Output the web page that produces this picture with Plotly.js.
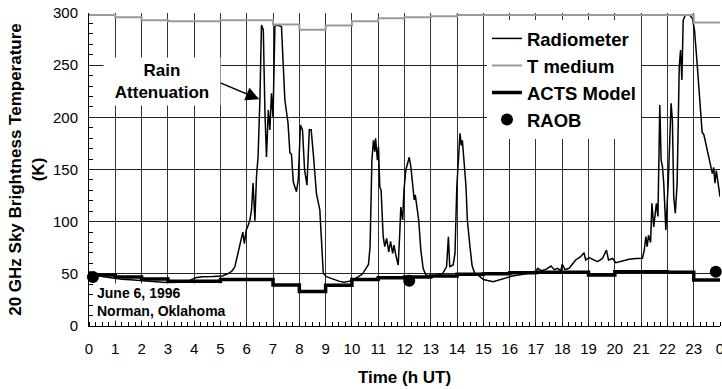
<!DOCTYPE html>
<html>
<head>
<meta charset="utf-8">
<script src="https://cdn.plot.ly/plotly-3.0.1.min.js"></script>
<style>html,body{margin:0;padding:0;background:#fff}#chart{width:722px;height:389px}</style>
</head>
<body>
<div id="chart"></div>
<script>
// Radiometer brightness temperature (h UT, K)
const radHours = [0.0,0.2,0.5,0.9,1.27,1.7,2.03,2.53,3.04,3.4,3.8,4.06,4.31,4.7,5.07,5.32,5.45,5.55,5.62,5.68,5.77,5.85,5.91,5.98,6.05,6.12,6.18,6.24,6.31,6.37,6.43,6.5,6.56,6.63,6.69,6.75,6.82,6.88,6.94,7.0,7.07,7.13,7.32,7.45,7.57,7.64,7.70,7.77,7.89,7.96,8.04,8.12,8.2,8.29,8.38,8.45,8.53,8.65,8.78,8.84,8.91,9.03,9.29,9.5,9.7,10.0,10.2,10.4,10.53,10.63,10.69,10.76,10.82,10.87,10.9,10.97,11.01,11.06,11.11,11.19,11.25,11.32,11.4,11.47,11.55,11.6,11.67,11.76,11.82,11.86,11.93,11.98,12.05,12.13,12.18,12.24,12.3,12.37,12.41,12.47,12.54,12.62,12.71,12.81,13.06,13.44,13.6,13.67,13.72,13.85,13.92,13.99,14.05,14.11,14.16,14.2,14.27,14.34,14.39,14.44,14.49,14.57,14.66,14.85,15.0,15.37,15.75,16.11,16.5,17.0,17.06,17.2,17.38,17.57,17.7,17.82,17.95,18.0,18.1,18.26,18.51,18.7,18.83,18.89,19.02,19.21,19.34,19.53,19.68,19.76,19.91,20.04,20.29,20.54,20.8,21.05,21.12,21.18,21.23,21.28,21.36,21.41,21.48,21.58,21.64,21.71,21.76,21.81,21.86,21.94,22.03,22.09,22.14,22.19,22.24,22.3,22.37,22.45,22.5,22.55,22.6,22.68,22.85,22.95,23.03,23.12,23.22,23.32,23.39,23.48,23.61,23.71,23.76,23.81,23.86,23.93,24.0];
const radTemp = [52,50,47.5,46,44.7,44,43.3,42.5,41.5,42,43.3,46.3,47.3,47.5,48,50.5,53,57,65,73,82,90,79,92,96,101.6,111,137,101,143,162,216.6,288.5,283.7,207,162,207,188,223,200,287,288.5,287,216.6,194.6,166,164.7,138,128.7,140,192.7,188,149.5,135,188,188,165.5,127,111,79,50.5,47.3,45,43,42,43.4,46.6,49.8,55,59,76,159,178,167,180,159,172,133.5,130,85.6,76,84,71,81,69.5,77.6,68,58.5,89,114,101.6,130,149.5,159,161.7,153,140,120.8,125.6,114,101.6,73,55,49,47.8,49.8,57,85.6,57,58.5,69.5,133.5,167,184.7,173,178,156,133.5,101.6,85.6,76,58,51,47.8,44.5,42.5,45.7,48,49.5,52,55.3,53,54.3,57.5,54,55.3,53,59.4,54,55.3,63.3,66.4,70.3,63.3,65.5,63.3,61.6,64.7,72.8,63.3,64.7,60.7,62.3,64,64.7,65,72.8,85.6,76,87,80,117.6,95,117.6,105,211.8,159,153,136.8,92,136.8,191,213.5,197,124,108,136.8,248.5,264.5,235.8,293,298,298,295,283.7,255,216.6,186,183,171.9,156,146,152,136.8,149,133.5,124];

// Hourly step values (value holds from hour h to h+1; last repeats)
const stepHours = [0,1,2,3,4,5,6,7,8,9,10,11,12,13,14,15,16,17,18,19,20,21,22,23,24];
const tMedium   = [298,296,293,292,292,293,293,289,284,288,292,295,296,297,298,298,298,298,298,298,298,298,298,291,291];
const actsModel = [49,47,45,43,43,44.5,44.5,39.3,33,39,44.5,46.3,47,48,49.5,50,51,51.5,51.5,49,52,52,51.5,44,44];

// Radiosonde points
const raobHours = [0.15, 12.18, 23.84];
const raobTemp  = [47, 43.4, 52];

const xTickVals = [0,1,2,3,4,5,6,7,8,9,10,11,12,13,14,15,16,17,18,19,20,21,22,23,24];
const xTickText = ['0','1','2','3','4','5','6','7','8','9','10','11','12','13','14','15','16','17','18','19','20','21','22','23','0'];

const FONT = '"Liberation Sans", Arial, Helvetica, sans-serif';

const traces = [
  {x: radHours, y: radTemp, name: 'Radiometer', mode: 'lines', type: 'scatter',
   line: {color: '#000', width: 1.5}},
  {x: stepHours, y: tMedium, name: 'T medium', mode: 'lines', type: 'scatter',
   line: {color: '#9a9a9a', width: 2, shape: 'hv'}},
  {x: stepHours, y: actsModel, name: 'ACTS Model', mode: 'lines', type: 'scatter',
   line: {color: '#000', width: 3.5, shape: 'hv'}},
  {x: raobHours, y: raobTemp, name: 'RAOB', mode: 'markers', type: 'scatter',
   cliponaxis: false, marker: {color: '#000', size: 12, symbol: 'circle'}}
];

const layout = {
  width: 722, height: 389,
  margin: {l: 89, r: 2, t: 13, b: 63},
  paper_bgcolor: '#fff', plot_bgcolor: '#fff',
  font: {family: FONT, color: '#000', size: 15},
  showlegend: true,
  legend: {
    x: 0.6307, y: 0.978, xanchor: 'left', yanchor: 'top',
    bgcolor: '#fff', borderwidth: 0,
    font: {family: FONT, size: 18.5, weight: 'bold', color: '#000'},
    tracegroupgap: 0
  },
  xaxis: {
    range: [0, 24], tickvals: xTickVals, ticktext: xTickText,
    showgrid: true, gridcolor: '#333', gridwidth: 1,
    showline: true, linecolor: '#000', linewidth: 1,
    zeroline: false, ticks: '', ticklabelstandoff: 9, ticklabeloverflow: 'allow',
    tickfont: {size: 15, family: FONT},
    minor: {dtick: 0.25, ticks: 'inside', ticklen: 4, tickcolor: '#000', tickwidth: 1, showgrid: false},
    title: {text: 'Time (h UT)', font: {size: 17, weight: 'bold', family: FONT}, standoff: 15}
  },
  yaxis: {
    range: [0, 300], dtick: 50,
    showgrid: true, gridcolor: '#222', gridwidth: 1,
    showline: true, linecolor: '#000', linewidth: 1,
    zeroline: false, ticks: '', ticklabelstandoff: 7,
    tickfont: {size: 15, family: FONT},
    minor: {dtick: 10, ticks: 'inside', ticklen: 4, tickcolor: '#000', tickwidth: 1, showgrid: false},
    title: {text: '20 GHz Sky Brightness Temperature<br>(K)', font: {size: 17, weight: 'bold', family: FONT}, standoff: 4}
  },
  shapes: [
    // white backing behind the legend (hides gridlines as in the original)
    {type: 'rect', xref: 'paper', yref: 'paper', layer: 'between',
     x0: (479 - 89) / 631, x1: (650 - 89) / 631, y0: (326 - 132) / 313, y1: (326 - 23) / 313,
     fillcolor: '#fff', line: {width: 0}}
  ],
  annotations: [
    {x: 6.475, y: 217.3, xref: 'x', yref: 'y', text: '', showarrow: true,
     ax: -57.6, ay: -24.3, axref: 'pixel', ayref: 'pixel',
     arrowhead: 2, arrowsize: 1.8, arrowwidth: 1.5, arrowcolor: '#000'},
    {x: 2.78, y: 234, xref: 'x', yref: 'y', text: 'Rain<br>Attenuation', showarrow: false,
     font: {size: 17, weight: 'bold', family: FONT, color: '#000'},
     bgcolor: '#fff', width: 110, borderpad: 3, align: 'center'},
    {x: 0.23, y: 23.3, xref: 'x', yref: 'y', xanchor: 'left', yanchor: 'middle',
     text: 'June 6, 1996<br>Norman, Oklahoma', showarrow: false, align: 'left',
     font: {size: 14, weight: 'bold', family: FONT, color: '#000'},
     bgcolor: '#fff', borderpad: 1, width: 134}
  ]
};

Plotly.newPlot('chart', traces, layout, {staticPlot: true, displayModeBar: false});
</script>
</body>
</html>
